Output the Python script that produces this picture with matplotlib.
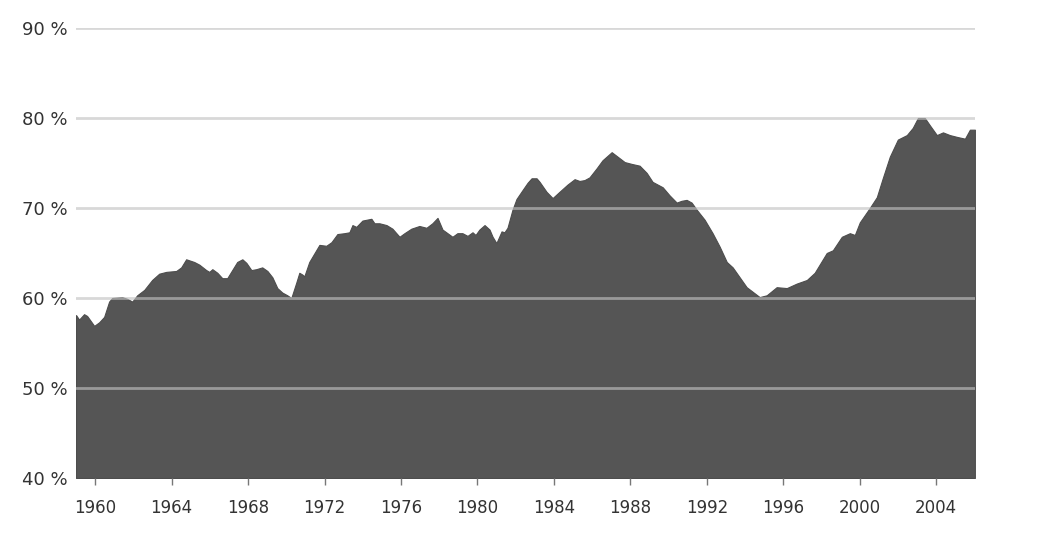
import matplotlib
matplotlib.use("Agg")
import matplotlib.pyplot as plt

# decimal years and values (%)
years = [
    1959.0, 1959.16, 1959.42, 1959.58, 1959.95, 1960.21, 1960.47, 1960.73, 1960.89, 1961.41,
    1961.68, 1961.94, 1962.2, 1962.57, 1962.98, 1963.35, 1963.72, 1964.24, 1964.5, 1964.76,
    1965.18, 1965.45, 1965.81, 1965.97, 1966.13, 1966.39, 1966.65, 1966.91, 1967.17, 1967.43,
    1967.7, 1967.91, 1968.17, 1968.43, 1968.74, 1969.01, 1969.27, 1969.53, 1969.79, 1970.05,
    1970.26, 1970.52, 1970.68, 1970.84, 1970.94, 1971.2, 1971.73, 1972.09, 1972.36, 1972.67,
    1973.04, 1973.3, 1973.46, 1973.66, 1973.98, 1974.45, 1974.61, 1974.87, 1975.24, 1975.55,
    1975.92, 1976.18, 1976.54, 1976.96, 1977.33, 1977.64, 1977.91, 1978.17, 1978.43, 1978.69,
    1978.95, 1979.21, 1979.48, 1979.74, 1979.9, 1980.1, 1980.37, 1980.63, 1980.79, 1980.99,
    1981.26, 1981.41, 1981.57, 1981.83, 1982.04, 1982.36, 1982.62, 1982.83, 1983.09, 1983.25,
    1983.61, 1983.93, 1984.29, 1984.71, 1985.08, 1985.34, 1985.6, 1985.86, 1986.23, 1986.54,
    1987.02, 1987.33, 1987.7, 1988.06, 1988.48, 1988.85, 1989.16, 1989.69, 1990.05, 1990.42,
    1990.68, 1990.94, 1991.2, 1991.47, 1991.88, 1992.3, 1992.67, 1993.04, 1993.35, 1994.08,
    1994.76, 1995.13, 1995.65, 1996.18, 1996.7, 1997.23, 1997.64, 1998.27, 1998.59, 1999.06,
    1999.48, 1999.74, 2000.0, 2000.52, 2000.89, 2001.2, 2001.57, 2001.99, 2002.46, 2002.77,
    2003.04, 2003.4, 2003.66, 2004.03, 2004.35, 2004.71, 2005.08, 2005.5, 2005.76, 2006.02,
]
values = [
    58.1, 57.6, 58.2, 58.0, 56.9, 57.3, 57.9, 59.6, 60.0, 60.1,
    59.9, 59.6, 60.3, 60.9, 62.0, 62.7, 62.9, 63.0, 63.4, 64.3,
    64.0, 63.7, 63.1, 62.9, 63.2, 62.8, 62.2, 62.2, 63.1, 64.0,
    64.3, 63.9, 63.1, 63.2, 63.4, 63.0, 62.3, 61.1, 60.6, 60.3,
    60.0, 61.7, 62.8, 62.6, 62.4, 64.0, 65.9, 65.8, 66.2, 67.1,
    67.2, 67.3, 68.1, 67.9, 68.6, 68.8, 68.3, 68.3, 68.1, 67.7,
    66.8, 67.2, 67.7, 68.0, 67.8, 68.3, 68.9, 67.6, 67.2, 66.8,
    67.2, 67.2, 66.9, 67.3, 67.0, 67.6, 68.1, 67.6, 66.8, 66.1,
    67.4, 67.3, 67.8, 69.8, 71.0, 72.0, 72.8, 73.3, 73.3, 72.9,
    71.8, 71.1, 71.8, 72.6, 73.2, 73.0, 73.1, 73.4, 74.4, 75.3,
    76.2, 75.7, 75.1, 74.9, 74.7, 73.9, 72.9, 72.3, 71.4, 70.6,
    70.8, 70.9, 70.6, 69.8, 68.7, 67.2, 65.7, 64.0, 63.4, 61.2,
    60.1, 60.3, 61.2, 61.1, 61.6, 62.0, 62.8, 65.0, 65.3, 66.8,
    67.2, 67.0, 68.4, 70.0, 71.2, 73.3, 75.7, 77.6, 78.1, 78.9,
    80.0, 80.0, 79.2, 78.1, 78.4, 78.1, 77.9, 77.7, 78.7, 78.7,
]
x_ticks = [1960, 1964, 1968, 1972, 1976, 1980, 1984, 1988, 1992, 1996, 2000, 2004]
y_ticks = [40, 50, 60, 70, 80, 90]
y_labels = [f"{v} %" for v in y_ticks]

fig = plt.figure(figsize=(10.46, 5.37), dpi=100)
ax = fig.add_axes([0.0727, 0.1099, 0.8593, 0.838])

ax.fill_between(years, values, 40, color="#555555", edgecolor="#4d4d4d", linewidth=0.8, zorder=1)

for v in y_ticks[1:]:
    ax.axhline(v, color="#c2c2c2", alpha=0.63, linewidth=2.0, zorder=2)

ax.set_xlim(years[0], years[-1])
ax.set_ylim(40, 90)
ax.set_xticks(x_ticks)
ax.set_xticklabels([str(y) for y in x_ticks])
ax.set_yticks(y_ticks)
ax.set_yticklabels(y_labels)

for s in ax.spines.values():
    s.set_visible(False)

ax.tick_params(axis="x", length=5, width=1, color="#777777", pad=10,
               labelsize=12, labelcolor="#333333", direction="out")
ax.tick_params(axis="y", length=0, pad=6, labelsize=13, labelcolor="#333333")

fig.savefig("out.png", dpi=100)
